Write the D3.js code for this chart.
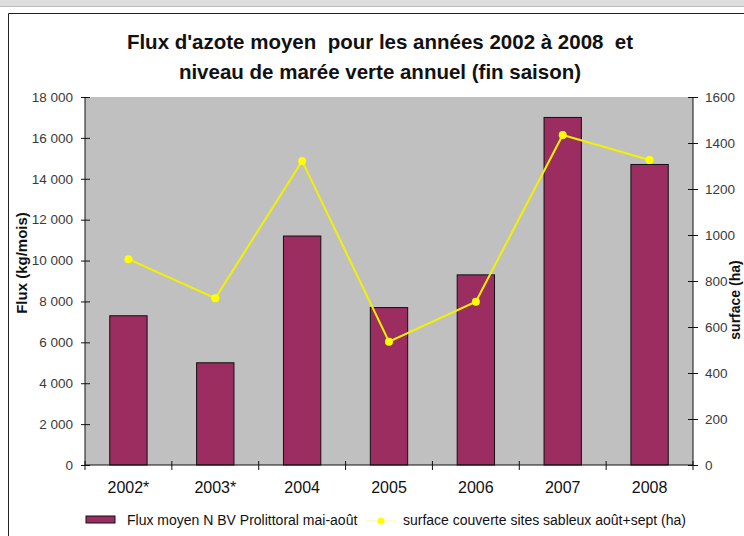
<!DOCTYPE html>
<html>
<head>
<meta charset="utf-8">
<script src="https://cdn.jsdelivr.net/npm/d3@7"></script>
<style>
  body { margin: 0; background: #fff; }
  svg { display: block; font-family: "Liberation Sans", Arial, sans-serif; }
</style>
</head>
<body>
<svg id="chart" width="744" height="536"></svg>
<script>
// data
let years = ['2002*', '2003*', '2004', '2005', '2006', '2007', '2008'];
let fluxValues = [7300, 5000, 11200, 7700, 9300, 17000, 14700];
let surfaceValues = [895, 725, 1322, 536, 710, 1435, 1326];
let fluxTicks = [0, 2000, 4000, 6000, 8000, 10000, 12000, 14000, 16000, 18000];
let surfaceTicks = [0, 200, 400, 600, 800, 1000, 1200, 1400, 1600];
let titleLines = ["Flux d'azote moyen  pour les années 2002 à 2008  et", 'niveau de marée verte annuel (fin saison)'];
let legendLabels = ['Flux moyen N BV Prolittoral mai-août', 'surface couverte sites sableux août+sept (ha)'];

let svg = d3.select('#chart');
let plotLeft = 85, plotRight = 693, plotTop = 97, plotBottom = 465;
let barColor = '#9b2d60';

// window chrome + frame
svg.append('rect').attr('x', 0).attr('y', 0).attr('width', 744).attr('height', 6).attr('fill', '#dedede');
svg.append('line').attr('x1', 0).attr('x2', 744).attr('y1', 6.5).attr('y2', 6.5).attr('stroke', '#bbb');
svg.append('path')
    .attr('d', 'M8.5,540 V13.5 H750')
    .attr('fill', 'none').attr('stroke', '#222');

// title
svg.append('text')
    .attr('x', 380).attr('text-anchor', 'middle')
    .attr('font-size', 20.5).attr('font-weight', 'bold').attr('fill', '#111')
    .selectAll('tspan').data(titleLines).join('tspan')
    .attr('x', 380).attr('y', (d, i) => 49 + i * 30)
    .style('white-space', 'pre')
    .text(d => d);

let x = d3.scaleBand().domain(years).range([plotLeft, plotRight]);
let yFlux = d3.scaleLinear().domain([0, 18000]).range([plotBottom, plotTop]);
let ySurf = d3.scaleLinear().domain([0, 1600]).range([plotBottom, plotTop]);

// plot area
svg.append('rect')
    .attr('x', plotLeft).attr('y', plotTop)
    .attr('width', plotRight - plotLeft).attr('height', plotBottom - plotTop)
    .attr('fill', '#c0c0c0');

let fmt = v => d3.format(',')(v).replace(/,/g, ' ');

// left axis
let axL = svg.append('g').attr('transform', `translate(${plotLeft},0)`)
    .call(d3.axisLeft(yFlux).tickValues(fluxTicks).tickFormat(fmt).tickSize(4).tickPadding(8));
axL.select('.domain').attr('d', `M0,${plotTop}V${plotBottom}`).attr('stroke', '#111');
axL.selectAll('.tick line').attr('x1', 5).attr('x2', -4).attr('stroke', '#111');
axL.selectAll('.tick text').attr('font-size', 13.5).attr('fill', '#3a3a3a').attr('font-family', null);

// right axis
let axR = svg.append('g').attr('transform', `translate(${plotRight},0)`)
    .call(d3.axisRight(ySurf).tickValues(surfaceTicks).tickFormat(d3.format('d')).tickSize(5).tickPadding(7));
axR.select('.domain').attr('d', `M0,${plotTop}V${plotBottom}`).attr('stroke', '#111');
axR.selectAll('.tick line').attr('x1', -5).attr('x2', 5).attr('stroke', '#111');
axR.selectAll('.tick text').attr('font-size', 13.5).attr('fill', '#3a3a3a').attr('font-family', null);

// bars
let barW = x.bandwidth() * 0.43;
svg.append('g').selectAll('rect').data(fluxValues).join('rect')
    .attr('x', (d, i) => x(years[i]) + (x.bandwidth() - barW) / 2)
    .attr('y', d => yFlux(d))
    .attr('width', barW)
    .attr('height', d => plotBottom - yFlux(d))
    .attr('fill', barColor)
    .attr('stroke', '#111').attr('stroke-width', 1);

// x axis
let axB = svg.append('g').attr('transform', `translate(0,${plotBottom})`)
    .call(d3.axisBottom(x).tickSize(0).tickPadding(17));
axB.select('.domain').attr('d', `M${plotLeft},0H${plotRight}`).attr('stroke', '#111');
axB.selectAll('.tick text').attr('font-size', 16).attr('fill', '#111').attr('font-family', null);
axB.selectAll('.bound').data(d3.range(years.length + 1)).join('line')
    .attr('x1', i => plotLeft + i * x.step()).attr('x2', i => plotLeft + i * x.step())
    .attr('y1', -4).attr('y2', 5).attr('stroke', '#111');

// surface line
let line = d3.line()
    .x((d, i) => x(years[i]) + x.bandwidth() / 2)
    .y(d => ySurf(d));
svg.append('path').datum(surfaceValues)
    .attr('d', line).attr('fill', 'none')
    .attr('stroke', '#f2f200').attr('stroke-width', 2);
svg.append('g').selectAll('circle').data(surfaceValues).join('circle')
    .attr('cx', (d, i) => x(years[i]) + x.bandwidth() / 2)
    .attr('cy', d => ySurf(d))
    .attr('r', 4).attr('fill', '#ffff00');

// axis titles
svg.append('text')
    .attr('transform', 'translate(27,263) rotate(-90)')
    .attr('text-anchor', 'middle')
    .attr('font-size', 15).attr('font-weight', 'bold').attr('fill', '#111')
    .text('Flux (kg/mois)');
svg.append('text')
    .attr('transform', 'translate(740,300) rotate(-90)')
    .attr('text-anchor', 'middle')
    .attr('font-size', 14).attr('font-weight', 'bold').attr('fill', '#111')
    .text('surface (ha)');

// legend
let lg = svg.append('g').attr('font-size', 14).attr('fill', '#111');
lg.append('rect').attr('x', 86).attr('y', 516).attr('width', 29).attr('height', 7)
    .attr('fill', barColor).attr('stroke', '#111');
lg.append('text').attr('x', 127).attr('y', 525).text(legendLabels[0]);
lg.append('line').attr('x1', 366).attr('x2', 396).attr('y1', 521).attr('y2', 521)
    .attr('stroke', '#fbfbd8').attr('stroke-width', 2);
lg.append('circle').attr('cx', 381).attr('cy', 521).attr('r', 3.5).attr('fill', '#ffff00');
lg.append('text').attr('x', 403).attr('y', 525).text(legendLabels[1]);
</script>
</body>
</html>
